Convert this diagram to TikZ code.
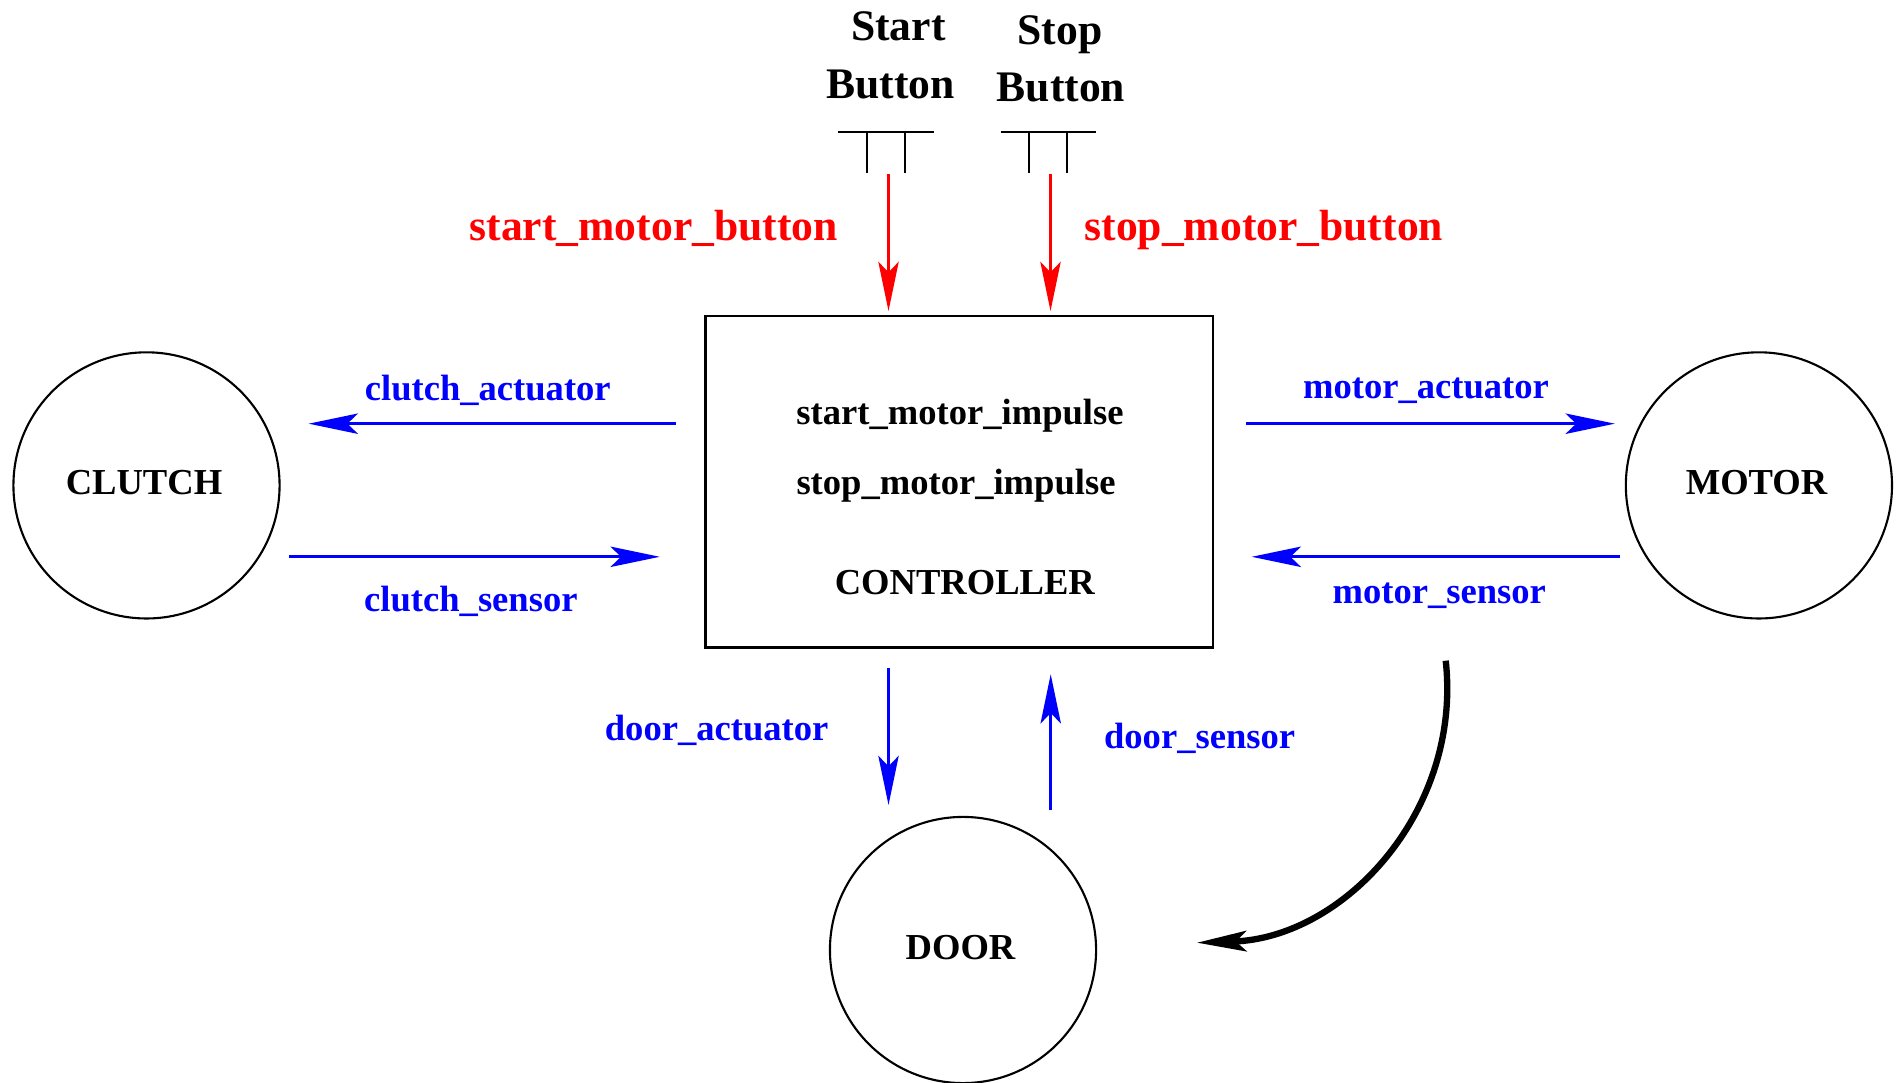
\documentclass[tikz,border=0pt]{standalone}
\usepackage{fontspec}
\setmainfont{Liberation Serif}
\usetikzlibrary{arrows.meta}
\definecolor{sigblue}{RGB}{0,0,255}
\definecolor{sigred}{RGB}{255,0,0}
\begin{document}
\begin{tikzpicture}[x=0.01cm,y=-0.01cm,
  every node/.style={font=\bfseries\fontsize{10.4}{12}\selectfont, inner sep=0pt},
  dev/.style={draw, circle, line width=0.6pt, minimum size=2.66cm},
  ctrlbox/.style={draw, rectangle, line width=0.7pt, minimum width=5.072cm, minimum height=3.316cm},
  tip/.style={-{Stealth[length=14pt,width=5.8pt,inset=3pt]}},
  bluearrow/.style={tip, draw=sigblue, line width=0.75pt},
  redarrow/.style={tip, draw=sigred, line width=0.7pt},
  bluelabel/.style={text=sigblue},
  redlabel/.style={text=sigred, font=\bfseries\fontsize{12.4}{14}\selectfont, anchor=base},
  btnlabel/.style={font=\bfseries\fontsize{12.4}{14}\selectfont, anchor=base},
  btn/.style={line width=0.6pt}
]
\useasboundingbox (0,0) rectangle (1898,1083);

% devices
\node[dev] (clutch) at (146.5,485.4) {};
\node[dev] (motor) at (1758.9,485.4) {};
\node[dev] (door) at (963,950) {};
\node (tclutch) at (144,483) {CLUTCH};
\node (tmotor) at (1756.5,483) {MOTOR};
\node (tdoor) at (960.5,947.6) {DOOR};
\node[ctrlbox] (ctrl) at (959.3,481.8) {};
\node (smi) at (960,415.3) {start\_motor\_impulse};
\node (tmi) at (956,485.5) {stop\_motor\_impulse};
\node (ctl) at (964.8,582.3) {CONTROLLER};

% buttons
\node[btnlabel] (startA) at (898.3,40.7) {Start};
\node[btnlabel] (startB) at (890.7,99) {Button};
\node[btnlabel] (stopA) at (1060,45) {Stop};
\node[btnlabel] (stopB) at (1061,101.7) {Button};
\draw[btn] (838.3,132.3) -- (934,132.3);
\draw[btn] (867.3,132.3) -- (867.3,173.3);
\draw[btn] (905,132.3) -- (905,173.3);
\draw[btn] (1000.7,132.3) -- (1096,132.3);
\draw[btn] (1029.3,132.3) -- (1029.3,173.3);
\draw[btn] (1066.7,132.3) -- (1066.7,173.3);

% button signals
\coordinate (sbA) at (888.5,174.3);
\coordinate (sbB) at (888.5,311);
\coordinate (tbA) at (1050.5,174.3);
\coordinate (tbB) at (1050.5,311);
\draw[redarrow] (sbA) -- (sbB);
\draw[redarrow] (tbA) -- (tbB);
\node[redlabel] (lsmb) at (653.7,241) {start\_motor\_button};
\node[redlabel] (ltmb) at (1263.8,241) {stop\_motor\_button};

% clutch
\coordinate (caA) at (675.5,423.7);
\coordinate (caB) at (308.7,423.7);
\coordinate (csA) at (289.3,556.8);
\coordinate (csB) at (659.7,556.8);
\draw[bluearrow] (caA) -- (caB);
\draw[bluearrow] (csA) -- (csB);
\node[bluelabel] (lca) at (487.8,389.9) {clutch\_actuator};
\node[bluelabel] (lcs) at (470.9,601.7) {clutch\_sensor};

% motor
\coordinate (maA) at (1245.6,423.7);
\coordinate (maB) at (1614.8,423.7);
\coordinate (msA) at (1619.6,556.8);
\coordinate (msB) at (1251.7,556.8);
\draw[bluearrow] (maA) -- (maB);
\draw[bluearrow] (msA) -- (msB);
\node[bluelabel] (lma) at (1426,390.9) {motor\_actuator};
\node[bluelabel] (lms) at (1439.3,595.5) {motor\_sensor};

% door
\coordinate (daA) at (888.5,668.2);
\coordinate (daB) at (888.5,805);
\coordinate (dsA) at (1050.7,809.8);
\coordinate (dsB) at (1050.7,674.3);
\draw[bluearrow] (daA) -- (daB);
\draw[bluearrow] (dsA) -- (dsB);
\node[bluelabel] (lda) at (716.6,730.7) {door\_actuator};
\node[bluelabel] (lds) at (1199.6,738.7) {door\_sensor};

% curved arrow
\coordinate (cvA) at (1445.7,660.7);
\coordinate (cvB) at (1197,942.7);
\draw[tip, line width=1.8pt] (cvA) .. controls (1462,810) and (1345,938) .. (cvB);
\end{tikzpicture}
\end{document}
